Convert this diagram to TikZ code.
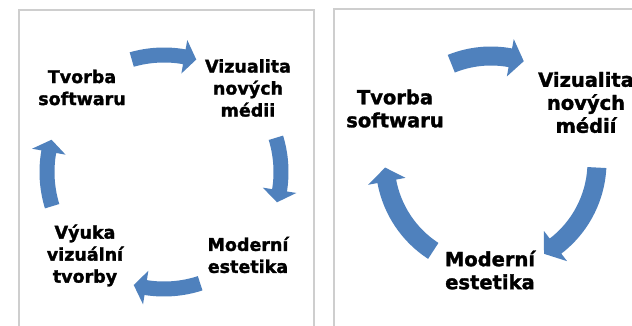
\documentclass[tikz,border=0pt]{standalone}
\usepackage{fontspec}
\setmainfont{DejaVu Sans}
\newfontfamily\heavyfont{DejaVu Sans Bold}[FakeBold=1.6]
\usetikzlibrary{calc}
\definecolor{cycleblue}{RGB}{79,129,189}
\definecolor{framegray}{RGB}{206,206,206}

% curved block arrow on a ring around the current origin, running clockwise
% #1 tail angle, #2 tip angle, #3 mid radius, #4 half shaft width,
% #5 half head width, #6 head length in degrees
\newcommand\cyclearrow[6]{%
  \pgfmathsetmacro\hbase{#2+#6}%
  \pgfmathsetmacro\rout{#3+#4}%
  \pgfmathsetmacro\rin{#3-#4}%
  \pgfmathsetmacro\hout{#3+#5}%
  \pgfmathsetmacro\hin{#3-#5}%
  \fill[cycleblue] (#1:\rout) arc[start angle=#1, end angle=\hbase, radius=\rout]
    -- (\hbase:\hout) -- (#2:#3) -- (\hbase:\hin) -- (\hbase:\rin)
    arc[start angle=\hbase, end angle=#1, radius=\rin] -- cycle;
}

\tikzset{
  frame/.style={draw=framegray, line width=1.4pt},
  lblsmall/.style={align=center, inner sep=0pt, font=\heavyfont\fontsize{17.5}{22}\selectfont},
  lblbig/.style={align=center, inner sep=0pt, font=\heavyfont\fontsize{19.5}{23}\selectfont},
}

\begin{document}
\begin{tikzpicture}[x=1pt, y=1pt]
  \useasboundingbox (0,0) rectangle (632,325);
  \fill[white] (0,0) rectangle (632,325);
  \clip (0,0) rectangle (632,325);

  % panel frames
  \draw[frame] (19,-10) -- (19,315) -- (314,315) -- (314,-10);
  \draw[frame] (334,-10) -- (334,316) -- (650,316);

  % four-step cycle
  \begin{scope}[shift={(164,153)}]
    \cyclearrow{106}{74}{117}{7.5}{17}{6}
    \cyclearrow{17}{-15}{117}{7.5}{17}{6}
    \cyclearrow{-72}{-105}{117}{7.5}{17}{6}
    \cyclearrow{197}{164}{117}{7.5}{17}{6}
  \end{scope}
  \node[lblsmall] (tvorbaA) at (82,237.5) {Tvorba\\softwaru};
  \node[lblsmall] (vizA) at (248,237) {Vizualita\\nových\\médii};
  \node[lblsmall] (modA) at (248,70) {Moderní\\estetika};
  \node[lblsmall] (vyukaA) at (85,69.5) {Výuka\\vizuální\\tvorby};

  % three-step cycle
  \begin{scope}[shift={(491,163)}]
    \cyclearrow{112}{72}{106}{9.5}{19}{7.5}
    \cyclearrow{-3}{-60}{106}{9.5}{19}{7.5}
    \cyclearrow{237}{183}{106}{9.5}{19}{7.5}
  \end{scope}
  \node[lblbig] (tvorbaB) at (395,216.5) {Tvorba\\softwaru};
  \node[lblbig] (vizB) at (586,222.5) {Vizualita\\nových\\médií};
  \node[lblbig] (modB) at (490,55) {Moderní\\estetika};
\end{tikzpicture}
\end{document}
